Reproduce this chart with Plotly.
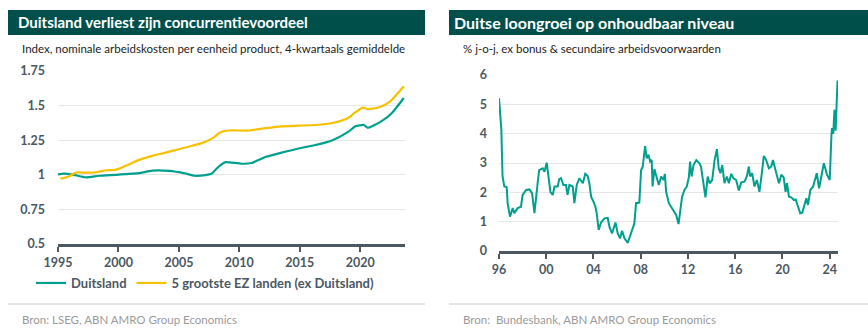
import plotly.graph_objects as go

W, H = 868, 330

# ---------------- Data: left chart (index, unit labour costs) ----------------
de_years = [1995.0, 1995.5, 1996.3, 1997.3, 1998.4, 1999.8, 2000.6, 2001.7, 2002.8,
            2004.2, 2005.5, 2006.3, 2007.2, 2007.7, 2008.3, 2008.8, 2009.2, 2010.2,
            2011.0, 2012.2, 2013.5, 2014.9, 2016.3, 2017.7, 2019.0, 2019.6, 2020.3,
            2020.6, 2021.8, 2022.6, 2023.6]
de_vals = [1.003, 1.008, 1.0, 0.982, 0.993, 1.0, 1.005, 1.012, 1.03,
           1.028, 1.01, 0.993, 0.998, 1.008, 1.06, 1.09, 1.09, 1.08,
           1.085, 1.13, 1.16, 1.19, 1.215, 1.25, 1.31, 1.35, 1.36,
           1.34, 1.39, 1.445, 1.555]

ez_years = [1995.2, 1995.9, 1996.5, 1997.3, 1998.1, 1998.9, 1999.8, 2000.6, 2001.7,
            2002.8, 2003.9, 2005.0, 2006.1, 2006.9, 2007.8, 2008.4, 2009.1, 2010.8,
            2012.2, 2013.5, 2014.9, 2016.3, 2017.7, 2019.0, 2019.5, 2020.2, 2020.6,
            2021.5, 2022.4, 2023.6]
ez_vals = [0.972, 0.988, 1.017, 1.015, 1.017, 1.031, 1.037, 1.065, 1.108,
           1.137, 1.16, 1.185, 1.21, 1.229, 1.265, 1.306, 1.32, 1.32,
           1.337, 1.35, 1.355, 1.36, 1.374, 1.41, 1.445, 1.486, 1.475,
           1.486, 1.525, 1.64]

left_ticks = [1995, 2000, 2005, 2010, 2015, 2020]
left_yticks = [0.5, 0.75, 1.0, 1.25, 1.5, 1.75]
left_yticklabels = ["0.5", "0.75", "1", "1.25", "1.5", "1.75"]

# ---------------- Data: right chart (wage growth, % y-o-y) ----------------
wage_t = [1996.00, 1996.08, 1996.20, 1996.30, 1996.45, 1996.65, 1996.73, 1996.93, 1997.16,
          1997.30, 1997.58, 1997.86, 1998.00, 1998.30, 1998.57, 1998.80, 1999.00, 1999.27,
          1999.40, 1999.70, 1999.85, 2000.04, 2000.20, 2000.35, 2000.55, 2000.70, 2000.97,
          2001.10, 2001.25, 2001.45, 2001.67, 2001.80, 2001.96, 2002.24, 2002.38, 2002.58,
          2002.80, 2003.10, 2003.30, 2003.50, 2003.65, 2003.80, 2004.00, 2004.16, 2004.27,
          2004.44, 2004.64, 2004.93, 2005.20, 2005.35, 2005.57, 2005.86, 2006.05, 2006.25,
          2006.42, 2006.62, 2006.90, 2007.10, 2007.32, 2007.46, 2007.60, 2007.88, 2008.03,
          2008.17, 2008.37, 2008.50, 2008.65, 2008.80, 2008.93, 2009.00, 2009.16, 2009.36,
          2009.53, 2009.73, 2009.93, 2010.04, 2010.15, 2010.38, 2010.57, 2010.77, 2011.00,
          2011.20, 2011.34, 2011.50, 2011.70, 2011.90, 2012.07, 2012.18, 2012.30, 2012.47,
          2012.70, 2012.97, 2013.10, 2013.25, 2013.48, 2013.67, 2013.82, 2014.05, 2014.25,
          2014.45, 2014.60, 2014.75, 2014.90, 2015.09, 2015.29, 2015.46, 2015.66, 2015.85,
          2016.08, 2016.30, 2016.50, 2016.79, 2016.98, 2017.15, 2017.26, 2017.43, 2017.63,
          2017.83, 2018.05, 2018.25, 2018.42, 2018.62, 2018.85, 2019.05, 2019.19, 2019.33,
          2019.53, 2019.70, 2019.90, 2020.10, 2020.26, 2020.38, 2020.55, 2020.75, 2020.95,
          2021.12, 2021.32, 2021.50, 2021.68, 2021.88, 2022.02, 2022.16, 2022.36, 2022.59,
          2022.90, 2023.10, 2023.30, 2023.50, 2023.77, 2024.00, 2024.14, 2024.19, 2024.30,
          2024.40, 2024.50, 2024.66]
wage_v = [5.21, 4.84, 4.13, 2.54, 2.20, 2.18, 1.63, 1.17, 1.46,
          1.29, 1.46, 1.51, 1.91, 2.08, 2.10, 1.97, 1.29, 2.31,
          2.76, 2.82, 2.70, 3.01, 2.54, 2.02, 1.91, 2.20, 2.20,
          2.45, 2.48, 2.25, 2.25, 1.91, 2.25, 2.20, 1.63, 2.25,
          2.48, 2.31, 2.63, 2.56, 2.31, 1.85, 1.68, 1.51, 1.29,
          0.72, 0.97, 1.11, 1.13, 0.82, 0.60, 0.97, 0.60, 0.43,
          0.69, 0.43, 0.28, 0.54, 0.82, 0.94, 1.63, 1.65, 2.76,
          2.88, 3.58, 3.16, 3.28, 3.05, 3.10, 2.20, 2.79, 2.48,
          2.25, 2.54, 2.42, 2.63, 2.02, 1.63, 1.51, 1.34, 1.23,
          0.92, 1.46, 1.85, 2.08, 2.20, 2.51, 3.05, 2.54, 2.93,
          3.10, 2.99, 2.88, 2.42, 1.83, 2.54, 2.31, 2.42, 3.10,
          3.47, 2.82, 2.65, 2.93, 2.31, 2.54, 2.31, 2.63, 2.48,
          2.42, 2.06, 2.33, 2.37, 2.54, 2.88, 2.54, 2.65, 2.20,
          2.42, 2.02, 2.65, 3.24, 3.10, 2.82, 2.88, 3.10, 2.88,
          2.54, 2.31, 2.60, 2.51, 2.02, 2.31, 1.85, 1.83, 1.74,
          1.76, 1.51, 1.29, 1.31, 1.63, 1.80, 1.57, 2.08, 2.20,
          2.65, 2.14, 2.60, 2.99, 2.60, 2.42, 3.90, 4.19, 4.00,
          4.81, 4.10, 5.81]

right_ticks = [1996, 2000, 2004, 2008, 2012, 2016, 2020, 2024]
right_ticklabels = ["96", "00", "04", "08", "12", "16", "20", "24"]
right_yticks = [0, 1, 2, 3, 4, 5, 6]

# ---------------- Styling ----------------
GREEN = "#00a08e"
YELLOW = "#f6c100"
HEADER = "#004f4a"
AXIS = "#4b5862"
GRID = "#e6e6e6"
FONT = "Lato"


def fx(p):
    return p / W


def fy(p):
    return 1 - p / H


fig = go.Figure()
fig.add_trace(go.Scatter(x=de_years, y=de_vals, mode="lines", name="Duitsland",
                         legendgroup="a",
                         line=dict(color=GREEN, width=2.2, shape="spline", smoothing=0.6),
                         xaxis="x", yaxis="y"))
fig.add_trace(go.Scatter(x=ez_years, y=ez_vals, mode="lines", name="5 grootste EZ landen (ex Duitsland)",
                         legendgroup="b",
                         line=dict(color=YELLOW, width=2.2, shape="spline", smoothing=0.6),
                         xaxis="x", yaxis="y"))
fig.add_trace(go.Scatter(x=wage_t, y=wage_v, mode="lines", name="Loongroei",
                         line=dict(color=GREEN, width=2), showlegend=False,
                         xaxis="x2", yaxis="y2"))

tickfont = dict(family=FONT, size=12.5, color=AXIS, weight="bold")

fig.update_layout(
    width=W, height=H, margin=dict(l=0, r=0, t=0, b=0, autoexpand=False),
    paper_bgcolor="white", plot_bgcolor="white",
    font=dict(family=FONT, color="#333333"),
    xaxis=dict(domain=[fx(58), fx(405)], range=[1995, 2023.7], tickvals=left_ticks,
               showgrid=False, showline=True, linecolor=AXIS, linewidth=3,
               ticks="outside", ticklen=5, tickwidth=2, tickcolor=AXIS, ticklabelstandoff=0,
               tickfont=tickfont, zeroline=False, automargin=False, anchor="y"),
    yaxis=dict(domain=[fy(244), fy(71)], range=[0.5, 1.75], tickvals=left_yticks,
               ticktext=left_yticklabels, showgrid=True, gridcolor=GRID, gridwidth=1,
               showline=False, zeroline=False, ticks="", ticklabelstandoff=12,
               tickfont=tickfont, automargin=False, anchor="x"),
    xaxis2=dict(domain=[fx(499), fx(838)], range=[1996, 2024.7], tickvals=right_ticks,
                ticktext=right_ticklabels, showgrid=False, showline=True, linecolor=AXIS,
                linewidth=3, ticks="outside", ticklen=5, tickwidth=2, tickcolor=AXIS,
                ticklabelstandoff=0, tickfont=tickfont, zeroline=False, automargin=False,
                anchor="y2"),
    yaxis2=dict(domain=[fy(251), fy(75)], range=[0, 6], tickvals=right_yticks,
                showgrid=True, gridcolor=GRID, gridwidth=1, showline=False, zeroline=False,
                ticks="", ticklabelstandoff=11, tickfont=tickfont, automargin=False,
                anchor="x2"),
    legend=dict(orientation="h", x=fx(31), y=fy(283), xanchor="left", yanchor="middle",
                font=dict(family=FONT, size=13, color=AXIS, weight="bold"),
                itemwidth=30, bgcolor="rgba(0,0,0,0)", tracegroupgap=5,
                traceorder="grouped"),
    showlegend=True,
)

shapes = [
    dict(type="rect", xref="paper", yref="paper", x0=fx(8), x1=fx(425), y0=fy(35), y1=fy(10),
         fillcolor=HEADER, line=dict(width=0), layer="below"),
    dict(type="rect", xref="paper", yref="paper", x0=fx(449), x1=fx(868), y0=fy(35), y1=fy(10),
         fillcolor=HEADER, line=dict(width=0), layer="below"),
    dict(type="line", xref="paper", yref="paper", x0=fx(8), x1=fx(425), y0=fy(304), y1=fy(304),
         line=dict(color="#cccccc", width=1)),
    dict(type="line", xref="paper", yref="paper", x0=fx(449), x1=fx(868), y0=fy(304), y1=fy(304),
         line=dict(color="#cccccc", width=1)),
]
fig.update_layout(shapes=shapes)

annotations = [
    dict(text="Duitsland verliest zijn concurrentievoordeel", x=fx(16), y=fy(22.5),
         font=dict(family=FONT, size=15, color="white", weight="bold")),
    dict(text="Index, nominale arbeidskosten per eenheid product, 4-kwartaals gemiddelde",
         x=fx(20), y=fy(49), font=dict(family=FONT, size=11.5, color="#222222")),
    dict(text="Bron: LSEG, ABN AMRO Group Economics", x=fx(20), y=fy(319),
         font=dict(family=FONT, size=11.5, color="#9a9a9a")),
    dict(text="Duitse loongroei op onhoudbaar niveau", x=fx(452), y=fy(22.5),
         font=dict(family=FONT, size=16, color="white", weight="bold")),
    dict(text="% j-o-j, ex bonus &amp; secundaire arbeidsvoorwaarden", x=fx(461), y=fy(49),
         font=dict(family=FONT, size=11.5, color="#222222")),
    dict(text="Bron:  Bundesbank, ABN AMRO Group Economics", x=fx(461), y=fy(319),
         font=dict(family=FONT, size=11.5, color="#9a9a9a")),
]
for a in annotations:
    a.update(xref="paper", yref="paper", xanchor="left", yanchor="middle", showarrow=False)
fig.update_layout(annotations=annotations)

fig.write_html("out.html")
